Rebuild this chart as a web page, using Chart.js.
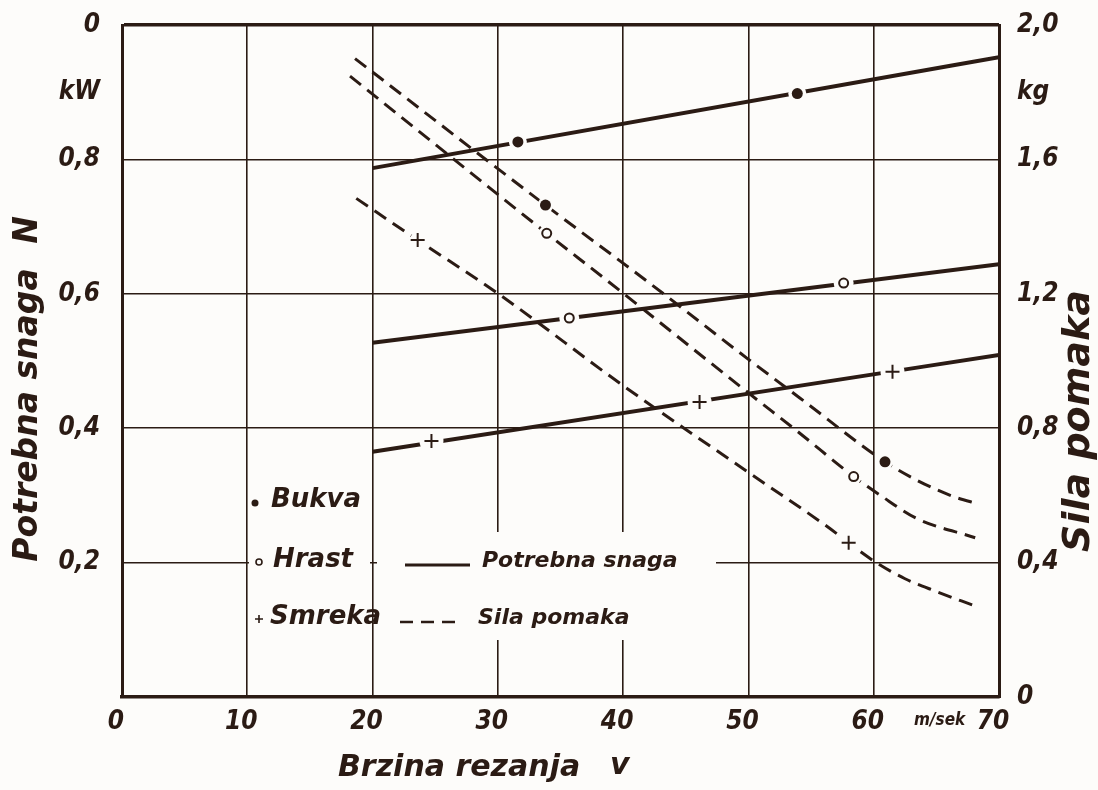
<!DOCTYPE html>
<html>
<head>
<meta charset="utf-8">
<script src="https://cdn.jsdelivr.net/npm/chart.js@4.4.0/dist/chart.umd.min.js"></script>
<style>
  body { margin: 0; background: #fdfcfa; }
  #wrap { width: 1098px; height: 790px; position: relative; }
</style>
</head>
<body>
<div id="wrap"><canvas id="chart"></canvas></div>
<script>
const INK = '#2b1b14';
const PAPER = '#fdfcfa';
const NARROW = '"Liberation Sans Narrow", "DejaVu Sans Condensed", "DejaVu Sans", sans-serif';
const WIDE = '"DejaVu Sans", "Noto Sans", sans-serif';

// osi
const xTicks = [0, 10, 20, 30, 40, 50, 60, 70];
const kwTicks = [0.2, 0.4, 0.6, 0.8, 0.9, 1.0];
const kwLabels = ['0,2', '0,4', '0,6', '0,8', 'kW', '0'];
const kgTicks = [0, 0.4, 0.8, 1.2, 1.6, 1.8, 2.0];
const kgLabels = ['0', '0,4', '0,8', '1,2', '1,6', 'kg', '2,0'];

// potrebna snaga N (kW), pravci od 20 do 70 m/sek
const snagaBrzina = [20, 70];
const bukvaSnaga = [0.787, 0.952];
const hrastSnaga = [0.527, 0.644];
const smrekaSnaga = [0.365, 0.509];

// oznacene tocke na pravcima snage
const bukvaSnagaTx = [31.6, 53.9];
const bukvaSnagaTy = [0.826, 0.898];
const hrastSnagaTx = [35.7, 57.6];
const hrastSnagaTy = [0.564, 0.616];
const smrekaSnagaTx = [24.7, 46.1, 61.5];
const smrekaSnagaTy = [0.381, 0.439, 0.484];

// sila pomaka (kg)
const bukvaSilaX = [18.6, 33.8, 42.1, 50.0, 54.1, 60.9, 63.4, 66.4, 68.4];
const bukvaSilaY = [1.900, 1.464, 1.232, 1.005, 0.890, 0.700, 0.646, 0.596, 0.574];
const hrastSilaX = [18.2, 33.9, 38.7, 50.0, 54.1, 58.4, 60.5, 63.4, 68.1];
const hrastSilaY = [1.848, 1.380, 1.240, 0.905, 0.785, 0.656, 0.601, 0.532, 0.474];
const smrekaSilaX = [18.7, 23.6, 30.0, 40.1, 50.1, 56.0, 60.0, 62.5, 65.0, 68.0];
const smrekaSilaY = [1.484, 1.360, 1.201, 0.924, 0.666, 0.515, 0.405, 0.352, 0.314, 0.272];

const bukvaSilaTx = [33.8, 60.9];
const bukvaSilaTy = [1.464, 0.700];
const hrastSilaTx = [33.9, 58.4];
const hrastSilaTy = [1.380, 0.656];
const smrekaSilaTx = [23.6, 58.0];
const smrekaSilaTy = [1.360, 0.459];

const pts = (xs, ys) => xs.map((x, i) => ({ x: x, y: ys[i] }));

function line(data, axis, dashed) {
    return {
        data: data, yAxisID: axis, order: 3,
        borderColor: INK, borderWidth: dashed ? 3 : 4,
        borderDash: dashed ? [14, 8] : [],
        cubicInterpolationMode: 'monotone',
        pointRadius: 0, fill: false
    };
}

function gap(data, axis, r) {
    return {
        data: data, yAxisID: axis, order: 2, showLine: false,
        pointRadius: r, pointBackgroundColor: PAPER, pointBorderWidth: 0,
        pointBorderColor: PAPER, pointHoverRadius: r
    };
}

function marker(data, axis, kind) {
    const ds = { data: data, yAxisID: axis, order: 1, showLine: false, pointBorderColor: INK };
    if (kind === 'dot') {
        ds.pointStyle = 'circle'; ds.pointRadius = 5.5; ds.pointBackgroundColor = INK; ds.pointBorderWidth = 0;
    } else if (kind === 'ring') {
        ds.pointStyle = 'circle'; ds.pointRadius = 4.5; ds.pointBackgroundColor = PAPER; ds.pointBorderWidth = 2;
    } else {
        ds.pointStyle = 'cross'; ds.pointRadius = 7; ds.pointBorderWidth = 2;
    }
    return ds;
}

const datasets = [
    line(pts(snagaBrzina, bukvaSnaga), 'yL', false),
    line(pts(snagaBrzina, hrastSnaga), 'yL', false),
    line(pts(snagaBrzina, smrekaSnaga), 'yL', false),
    line(pts(bukvaSilaX, bukvaSilaY), 'yR', true),
    line(pts(hrastSilaX, hrastSilaY), 'yR', true),
    line(pts(smrekaSilaX, smrekaSilaY), 'yR', true),

    gap(pts(bukvaSnagaTx, bukvaSnagaTy), 'yL', 9),
    gap(pts(hrastSnagaTx, hrastSnagaTy), 'yL', 10),
    gap(pts(smrekaSnagaTx, smrekaSnagaTy), 'yL', 12),
    gap(pts(bukvaSilaTx, bukvaSilaTy), 'yR', 8),
    gap(pts(hrastSilaTx, hrastSilaTy), 'yR', 8),
    gap(pts(smrekaSilaTx, smrekaSilaTy), 'yR', 8),

    marker(pts(bukvaSnagaTx, bukvaSnagaTy), 'yL', 'dot'),
    marker(pts(hrastSnagaTx, hrastSnagaTy), 'yL', 'ring'),
    marker(pts(smrekaSnagaTx, smrekaSnagaTy), 'yL', 'cross'),
    marker(pts(bukvaSilaTx, bukvaSilaTy), 'yR', 'dot'),
    marker(pts(hrastSilaTx, hrastSilaTy), 'yR', 'ring'),
    marker(pts(smrekaSilaTx, smrekaSilaTy), 'yR', 'cross')
];

const tickFont = { family: NARROW, size: 26, weight: 'bold', style: 'italic' };

// legenda, naslovi osi i bijela polja ispod legende
const crtez = {
    id: 'crtez',
    beforeDatasetsDraw(chart) {
        const ctx = chart.ctx;
        ctx.save();
        ctx.fillStyle = PAPER;
        ctx.fillRect(400, 532, 316, 108);
        ctx.fillRect(249, 556, 121, 15);
        ctx.fillRect(377, 556, 24, 15);
        ctx.restore();
    },
    afterDraw(chart) {
        const ctx = chart.ctx;
        ctx.save();
        ctx.fillStyle = INK;
        ctx.strokeStyle = INK;
        ctx.textBaseline = 'middle';
        const f = (s, fam) => 'italic bold ' + s + 'px ' + (fam || WIDE);

        // naslovi osi
        ctx.font = f(30);
        ctx.textAlign = 'left';
        ctx.fillText('Brzina rezanja', 338, 768);
        ctx.fillText('v', 610, 766);
        ctx.textAlign = 'center';
        ctx.save();
        ctx.font = f(33);
        ctx.translate(28, 415);
        ctx.rotate(-Math.PI / 2);
        ctx.fillText('Potrebna snaga', 0, 0);
        ctx.fillText('N', 185, 0);
        ctx.restore();
        ctx.save();
        ctx.font = f(38);
        ctx.translate(1079, 421);
        ctx.rotate(-Math.PI / 2);
        ctx.fillText('Sila pomaka', 0, 0);
        ctx.restore();

        ctx.font = f(17, NARROW);
        ctx.textAlign = 'left';
        ctx.fillText('m/sek', 914, 721);

        // legenda
        ctx.font = f(26);
        ctx.beginPath(); ctx.arc(255, 503, 3.5, 0, Math.PI * 2); ctx.fill();
        ctx.fillText('Bukva', 271, 500);
        ctx.lineWidth = 1.6;
        ctx.beginPath(); ctx.arc(259, 562, 3, 0, Math.PI * 2); ctx.stroke();
        ctx.fillText('Hrast', 273, 560);
        ctx.beginPath();
        ctx.moveTo(255, 619); ctx.lineTo(263, 619);
        ctx.moveTo(259, 615); ctx.lineTo(259, 623);
        ctx.stroke();
        ctx.fillText('Smreka', 270, 617);

        ctx.font = f(22);
        ctx.lineWidth = 3;
        ctx.beginPath(); ctx.moveTo(405, 565); ctx.lineTo(470, 565); ctx.stroke();
        ctx.fillText('Potrebna snaga', 482, 561);
        ctx.lineWidth = 2.6;
        ctx.setLineDash([13, 8]);
        ctx.beginPath(); ctx.moveTo(400, 622); ctx.lineTo(462, 622); ctx.stroke();
        ctx.setLineDash([]);
        ctx.fillText('Sila pomaka', 478, 618);
        ctx.restore();
    }
};

const fitY = (w) => (s) => { s.width = w; s.paddingTop = 0; s.paddingBottom = 0; };

new Chart(document.getElementById('chart'), {
    type: 'line',
    data: { datasets: datasets },
    options: {
        responsive: true,
        maintainAspectRatio: false,
        animation: false,
        events: [],
        layout: { padding: { top: 25, left: 0, right: 0, bottom: 0 } },
        plugins: { legend: { display: false }, tooltip: { enabled: false } },
        scales: {
            x: {
                type: 'linear', min: 0, max: 70,
                afterBuildTicks: (s) => { s.ticks = xTicks.map(v => ({ value: v })); },
                afterFit: (s) => { s.height = 93; s.paddingLeft = 0; s.paddingRight = 0; },
                grid: {
                    color: (c) => (c.tick && (c.tick.value === 0 || c.tick.value === 70)) ? 'rgba(0,0,0,0)' : INK,
                    lineWidth: 1.6, drawTicks: false
                },
                border: { color: INK, width: 3.5 },
                ticks: { color: INK, font: tickFont, padding: 10, labelOffset: -6, maxRotation: 0, autoSkip: false }
            },
            yL: {
                type: 'linear', position: 'left', min: 0, max: 1.0,
                afterBuildTicks: (s) => { s.ticks = kwTicks.map(v => ({ value: v })); },
                afterFit: fitY(122),
                grid: {
                    color: (c) => (c.tick && c.tick.value === 0.9) ? 'rgba(0,0,0,0)' : INK,
                    lineWidth: (c) => (c.tick && c.tick.value === 1.0) ? 3.5 : 1.6,
                    drawTicks: false
                },
                border: { color: INK, width: 3 },
                ticks: {
                    color: INK, font: tickFont, padding: 22, autoSkip: false,
                    callback: (v) => kwLabels[kwTicks.indexOf(v)]
                }
            },
            yR: {
                type: 'linear', position: 'right', min: 0, max: 2.0,
                afterBuildTicks: (s) => { s.ticks = kgTicks.map(v => ({ value: v })); },
                afterFit: fitY(99),
                grid: { display: false, drawTicks: false },
                border: { color: INK, width: 3 },
                ticks: {
                    color: INK, font: tickFont, padding: 18, autoSkip: false,
                    callback: (v) => kgLabels[kgTicks.indexOf(v)]
                }
            }
        }
    },
    plugins: [crtez]
});
</script>
</body>
</html>
